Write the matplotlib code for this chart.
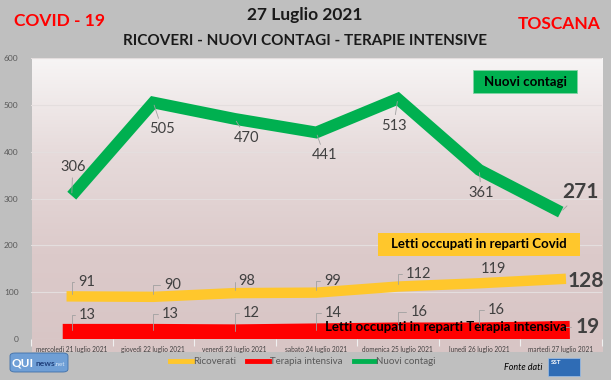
import numpy as np
import matplotlib
matplotlib.use("Agg")
import matplotlib.pyplot as plt
from matplotlib.colors import LinearSegmentedColormap
from matplotlib.patches import Rectangle, FancyBboxPatch
from matplotlib.lines import Line2D

plt.rcParams['font.family'] = ['Lato', 'DejaVu Sans']

# data
dates = ['mercoledì 21 luglio 2021', 'giovedì 22 luglio 2021', 'venerdì 23 luglio 2021',
         'sabato 24 luglio 2021', 'domenica 25 luglio 2021', 'lunedì 26 luglio 2021',
         'martedì 27 luglio 2021']
ricoverati = [91, 90, 98, 99, 112, 119, 128]
terapia = [13, 13, 12, 14, 16, 16, 19]
contagi = [306, 505, 470, 441, 513, 361, 271]
yticks = [0, 100, 200, 300, 400, 500, 600]

# label offsets in pixels (x right, y up)
off_contagi = [(1, 29), (9, -27), (12, -19), (8, -23), (-4, -27), (2, -23), (20, 20)]
off_ricov = [(15, 14), (19, 12), (12, 12), (16, 12), (21, 13), (14, 14), (25, -2)]
off_ter = [(16, 18), (17, 19), (17, 20), (17, 19), (21, 20), (17, 22), (27, 3)]

W, H = 611, 380
fig = plt.figure(figsize=(W / 100, H / 100), dpi=100)
fig.patch.set_facecolor('#bfbfbf')

def fx(px):
    return px / W

def fy(py):
    return 1 - py / H

# gradient background of chart area
bg = fig.add_axes([fx(32), fy(352), fx(603) - fx(32), fy(58) - fy(352)])
cmap = LinearSegmentedColormap.from_list('bg', ['#f7f5f5', '#e6dada', '#dccaca', '#d8c5c5'])
grad = np.linspace(0, 1, 256).reshape(-1, 1)
bg.imshow(grad, aspect='auto', cmap=cmap, extent=[0, 1, 0, 1], origin='upper')
bg.set_axis_off()

ax = fig.add_axes([fx(31), fy(339), fx(601.5) - fx(31), fy(58) - fy(339)])
ax.patch.set_alpha(0)
x = np.arange(len(dates))

ax.set_ylim(0, 600)
ax.set_xlim(-0.5, 6.5)
ax.set_yticks(yticks)
ax.yaxis.grid(True, color='#e4dede', lw=0.8)
ax.set_axisbelow(True)
for s in ax.spines.values():
    s.set_visible(False)
ax.tick_params(axis='y', length=0, labelsize=6, labelcolor='#595959', pad=9)
ax.set_xticks(x)
ax.set_xticklabels(dates, fontsize=4.7, color='#404040')
ax.tick_params(axis='x', length=0, pad=5)
ax.set_xticks(np.arange(-0.5, 7, 1), minor=True)
ax.tick_params(axis='x', which='minor', length=5, color='#f0f0f0', width=0.8)

red = '#ff0000'
yellow = '#ffc72c'
green = '#00b050'

ax.plot(x, terapia, color=red, lw=13, solid_capstyle='projecting', zorder=2)
ax.plot(x, ricoverati, color=yellow, lw=7.5, solid_capstyle='projecting', solid_joinstyle='miter', zorder=2)
ax.plot(x, contagi, color=green, lw=8.5, solid_capstyle='butt', solid_joinstyle='miter', zorder=2)

lead = dict(arrowstyle='-', color='#a0a0a0', lw=0.6, shrinkA=1, shrinkB=2)
for i in range(len(x)):
    last = i == len(x) - 1
    kw = dict(fontsize=15 if last else 10.5, fontweight='bold' if last else 'normal',
              color='#404040', ha='center', va='center', textcoords='offset pixels', zorder=5)
    ax.annotate(str(contagi[i]), (x[i], contagi[i]), xytext=off_contagi[i],
                arrowprops=dict(lead, connectionstyle='arc3'), **kw)
    ax.annotate(str(ricoverati[i]), (x[i], ricoverati[i]), xytext=off_ricov[i],
                arrowprops=dict(lead, connectionstyle='angle,angleA=180,angleB=90,rad=0'), **kw)
    ax.annotate(str(terapia[i]), (x[i], terapia[i]), xytext=off_ter[i],
                arrowprops=dict(lead, connectionstyle='angle,angleA=180,angleB=90,rad=0'), **kw)

# text boxes
fig.patches.append(Rectangle((fx(473), fy(93)), fx(577) - fx(473), fy(70) - fy(93),
                             transform=fig.transFigure, facecolor=green, edgecolor='#7fd3a4', lw=0.6))
fig.text(fx(525), fy(81.5), 'Nuovi contagi', fontsize=9.5, fontweight='bold', color='black',
         ha='center', va='center')
fig.patches.append(Rectangle((fx(378), fy(256)), fx(580) - fx(378), fy(233) - fy(256),
                             transform=fig.transFigure, facecolor=yellow, edgecolor='none'))
fig.text(fx(479), fy(244.5), 'Letti occupati in reparti Covid', fontsize=9.5, fontweight='bold',
         color='black', ha='center', va='center')
fig.text(fx(446), fy(327), 'Letti occupati in reparti Terapia intensiva', fontsize=9.5,
         fontweight='bold', color='black', ha='center', va='center', zorder=6)

# titles
fig.text(fx(305), fy(15), '27 Luglio 2021', fontsize=12.5, fontweight='bold', color='#1a1a1a',
         ha='center', va='center')
fig.text(fx(305), fy(41), 'RICOVERI - NUOVI CONTAGI - TERAPIE INTENSIVE', fontsize=11,
         fontweight='bold', color='#1a1a1a', ha='center', va='center')
fig.text(fx(59), fy(21), 'COVID - 19', fontsize=12.5, fontweight='bold', color='#ff0000',
         ha='center', va='center')
fig.text(fx(559), fy(24), 'TOSCANA', fontsize=12.5, fontweight='bold', color='#ff0000',
         ha='center', va='center')

# legend
handles = [Line2D([], [], color=yellow, lw=3.5), Line2D([], [], color=red, lw=3.5),
           Line2D([], [], color=green, lw=3.5)]
fig.legend(handles, ['Ricoverati', 'Terapia intensiva', 'Nuovi contagi'], loc='center',
           bbox_to_anchor=(fx(303), fy(362)), ncol=3, frameon=False, fontsize=7,
           labelcolor='#595959', handlelength=2.2, handletextpad=0.1, columnspacing=1.2,
           borderpad=0)

# logos
fig.patches.append(FancyBboxPatch((fx(10), fy(372)), fx(68) - fx(10), fy(353) - fy(372),
                                  boxstyle='round,pad=0,rounding_size=0.008', transform=fig.transFigure,
                                  facecolor='#6f9fd6', edgecolor='#3f6fa8', lw=0.6))
fig.text(fx(12), fy(362.5), 'QUI', fontsize=8.5, fontweight='bold', color='white', ha='left', va='center')
fig.text(fx(35), fy(364), 'news', fontsize=6, fontweight='bold', color='#1f3f7a', ha='left', va='center')
fig.text(fx(55), fy(364), '.net', fontsize=4.5, color='#d8e6f6', ha='left', va='center')

fig.text(fx(542), fy(367), 'Fonte dati', fontsize=6.5, style='italic', color='black',
         ha='right', va='center')
fig.patches.append(Rectangle((fx(548), fy(376)), fx(580) - fx(548), fy(358) - fy(376),
                             transform=fig.transFigure, facecolor='#2f6cb5', edgecolor='#9fc0e6', lw=0.5))
fig.text(fx(556), fy(362), 'SST', fontsize=4.5, fontweight='bold', color='white', ha='center', va='center')

fig.savefig('out.png', dpi=100, facecolor=fig.get_facecolor())
